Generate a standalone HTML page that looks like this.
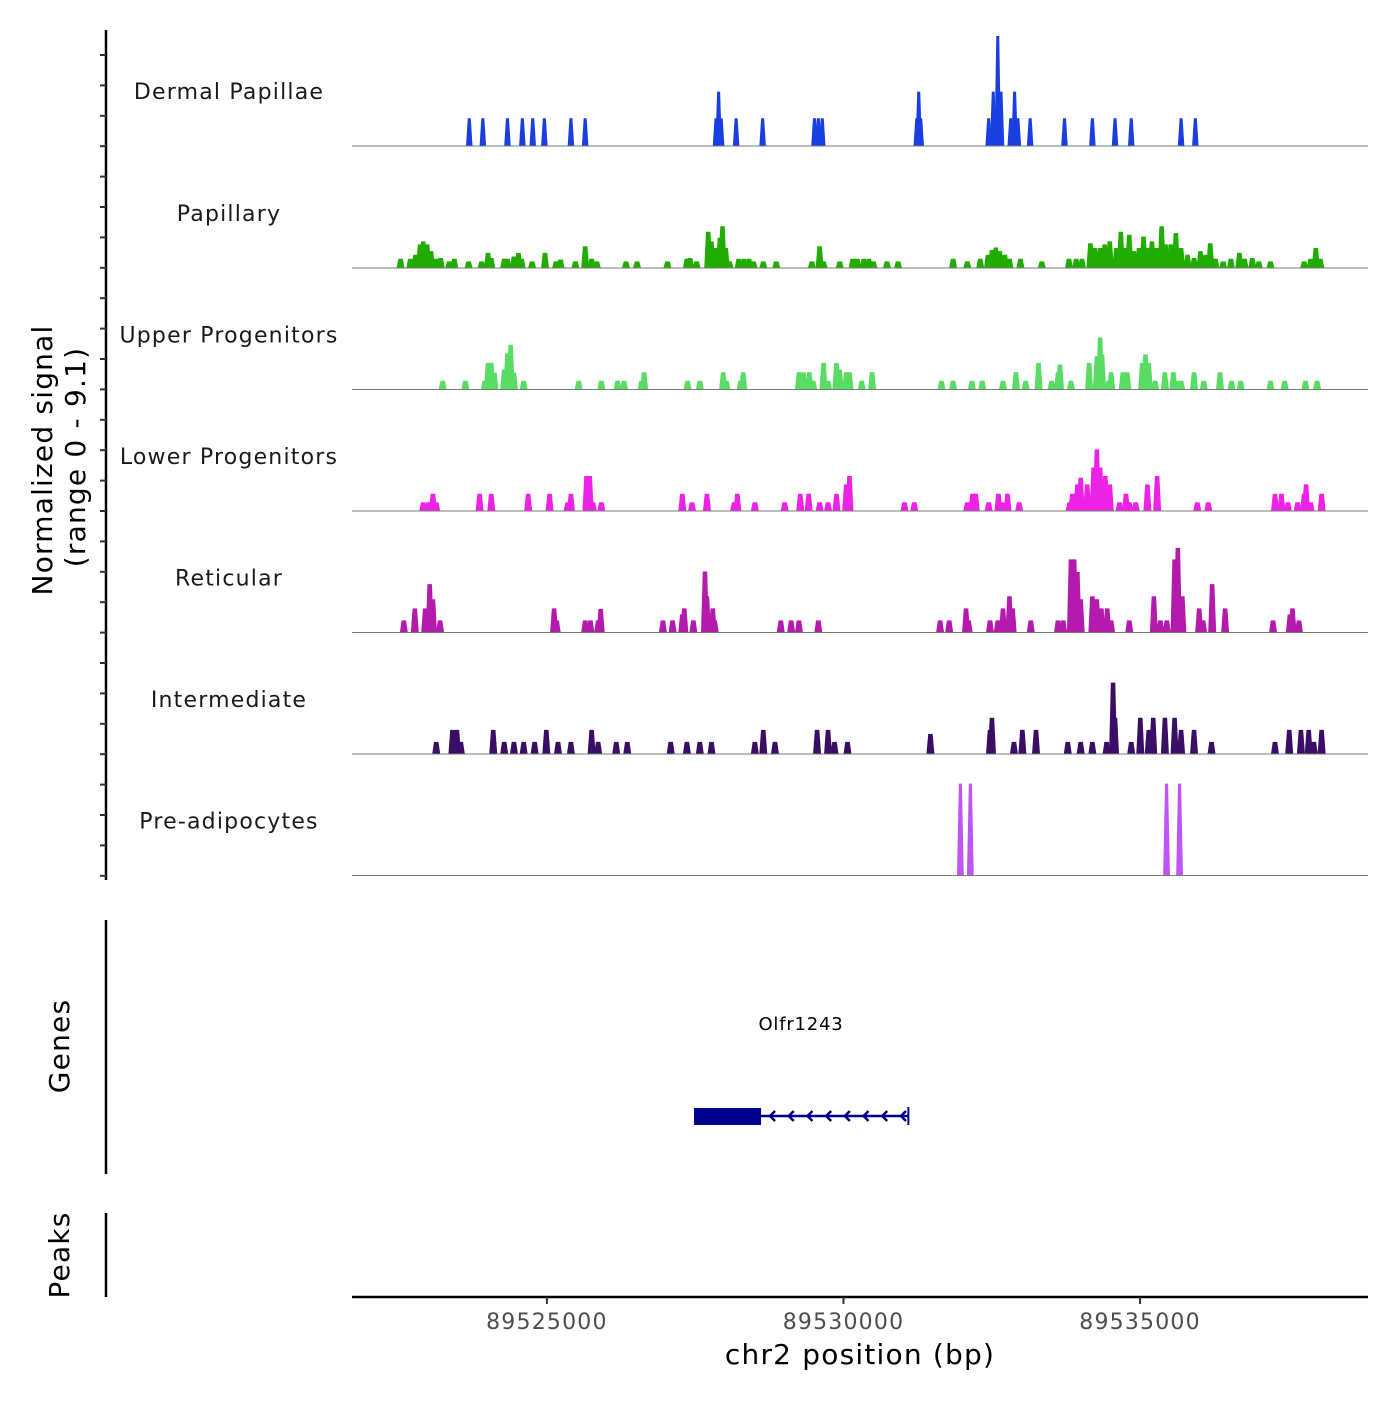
<!DOCTYPE html>
<html><head><meta charset="utf-8"><style>
body{margin:0;background:#fff}
svg text{font-family:"DejaVu Sans","Liberation Sans",sans-serif}
</style></head><body>
<svg id="c" width="1400" height="1400" xmlns="http://www.w3.org/2000/svg">
<g id="axes"></g>
<g id="tracks"></g>
</svg>
<script>
// region and axis data
const regionStart = 89521714;
const regionEnd = 89538843;
const xTicks = [89525000, 89530000, 89535000];
const trackNames = ["Dermal Papillae","Papillary","Upper Progenitors","Lower Progenitors","Reticular","Intermediate","Pre-adipocytes"];
const trackColors = ["#1a3fe0","#20ad00","#58dc64","#ee22e6","#b41aac","#3b0e66","#c055f6"];
const signalMax = 9.1;
// peaks: [offset from region start (bp), normalized signal]
const dermalPapillae = [[1977,2.3],[2206,2.3],[2621,2.3],[2872,2.3],[3047,2.3],[3243,2.3],[3691,2.3],[3931,2.3],[6137,2.3],[6181,4.5],[6224,2.3],[6476,2.3],[6923,2.3],[7797,2.3],[7862,2.3],[7928,2.3],[9522,2.3],[9555,4.5],[9588,2.3],[10734,2.3],[10811,4.5],[10887,9.1],[10942,4.5],[11106,2.3],[11171,4.5],[11226,2.3],[11433,2.3],[12012,2.3],[12482,2.3],[12864,2.3],[13137,2.3],[13978,2.3],[14218,2.3]];
const papillary = [[819,.77],[983,.77],[1070,1.1],[1147,1.95],[1201,2.2],[1267,1.95],[1332,1.4],[1420,.77],[1496,.83],[1638,.55],[1725,.77],[1966,.55],[2184,.55],[2293,1.25],[2348,.83],[2566,.77],[2621,.77],[2730,.95],[2806,1.25],[2861,.77],[3036,.55],[3254,1.25],[3440,.55],[3516,.7],[3767,.55],[3931,1.8],[4040,.77],[4128,.55],[4619,.55],[4805,.55],[5318,.55],[5646,.77],[5700,.83],[5809,.55],[6006,3.0],[6061,2.2],[6137,1.65],[6203,2.5],[6246,3.45],[6301,1.65],[6366,.55],[6519,.77],[6607,.77],[6694,.77],[6770,.55],[6934,.55],[7153,.55],[7753,.55],[7884,1.8],[7950,.55],[8223,.55],[8441,.77],[8518,.77],[8627,.77],[8714,.77],[8791,.55],[9020,.55],[9206,.55],[10134,.77],[10374,.55],[10592,.77],[10723,1.1],[10789,1.5],[10854,1.7],[10920,1.4],[11007,1.1],[11084,.77],[11269,.77],[11630,.55],[12088,.77],[12209,.77],[12307,.77],[12449,2.05],[12525,1.65],[12613,1.65],[12689,1.95],[12776,2.2],[12886,1.65],[12962,3.0],[13049,1.65],[13104,2.75],[13180,1.4],[13268,1.65],[13344,2.6],[13410,1.65],[13486,2.2],[13563,1.65],[13650,3.45],[13716,1.95],[13803,1.95],[13890,2.9],[13978,1.65],[14087,1.1],[14196,.83],[14305,1.4],[14393,1.1],[14469,2.05],[14556,.77],[14687,.55],[14818,.77],[14960,1.25],[15048,.77],[15179,.83],[15288,.55],[15485,.55],[16052,.55],[16162,.77],[16249,1.65],[16325,.77]];
const upperProgenitors = [[1529,.72],[1911,.72],[2239,.72],[2293,2.2],[2348,2.2],[2402,1.4],[2566,1.65],[2621,3.0],[2675,3.7],[2730,1.4],[2894,.72],[3822,.72],[4204,.72],[4477,.72],[4586,.72],[4881,.72],[4925,1.43],[5657,.72],[5864,.72],[6257,1.43],[6312,.72],[6552,.72],[6596,1.43],[7535,1.43],[7611,1.43],[7710,1.43],[7775,.72],[7950,2.2],[8026,.72],[8168,2.2],[8223,1.65],[8332,1.43],[8387,1.43],[8594,.72],[8769,1.43],[9937,.72],[10134,.72],[10450,.72],[10625,.72],[10975,.72],[11193,1.43],[11357,.72],[11575,2.2],[11794,.72],[11903,1.43],[11936,2.07],[12121,.72],[12427,2.2],[12558,2.75],[12613,4.3],[12645,2.9],[12755,.72],[12798,1.43],[12995,1.43],[13071,1.43],[13322,2.2],[13377,2.9],[13432,2.2],[13541,.72],[13705,1.43],[13847,1.43],[13923,.72],[13978,.72],[14196,1.43],[14360,.72],[14633,1.43],[14829,.72],[14982,.72],[15485,.72],[15725,.72],[16074,.72],[16271,.72]];
const lowerProgenitors = [[1201,.72],[1289,.72],[1365,1.43],[1420,.72],[2151,1.43],[2348,1.43],[2970,1.43],[3331,1.43],[3636,.72],[3691,1.43],[3953,2.9],[4008,2.9],[4062,.72],[4204,.72],[5569,1.43],[5733,.72],[5984,1.43],[6443,.72],[6497,1.43],[6792,.72],[7295,.72],[7557,1.43],[7699,1.43],[7884,.72],[8026,.72],[8168,1.43],[8332,2.2],[8387,2.9],[9315,.72],[9479,.72],[10374,.72],[10461,1.43],[10516,1.43],[10734,.72],[10898,1.43],[10953,.72],[11051,1.43],[11248,.72],[12099,.72],[12143,1.43],[12230,2.2],[12285,2.75],[12394,2.2],[12503,3.6],[12558,5.1],[12613,3.6],[12667,2.2],[12700,2.9],[12776,2.2],[12940,.72],[13049,1.43],[13104,.72],[13213,.72],[13410,2.2],[13574,2.9],[14251,.72],[14436,.72],[15561,1.43],[15670,1.43],[15779,.72],[15943,.72],[16052,1.43],[16085,2.2],[16162,.72],[16347,1.43]];
const reticular = [[874,1],[1059,2],[1234,2],[1310,4],[1365,2.75],[1485,1],[3407,2],[3451,1],[3931,1],[4019,1],[4150,1],[4193,1.95],[5242,1],[5405,1],[5569,1.5],[5602,2],[5755,1],[5951,5.05],[5984,3],[6082,2],[6115,1],[7229,1],[7404,1],[7535,1],[7862,1],[9915,1],[10068,1],[10352,2],[10396,1],[10756,1],[10887,1],[10975,2],[11084,3],[11138,2],[11444,1],[11903,1],[11990,1],[12121,6.05],[12176,6.05],[12230,5],[12285,2.75],[12482,3],[12558,2.75],[12634,2],[12733,2],[12798,1],[13104,1],[13519,3],[13628,1],[13737,1],[13868,6.05],[13923,7],[13999,3],[14283,2],[14349,1],[14502,4],[14720,2],[15528,1],[15812,1.5],[15856,2],[15965,1]];
const intermediate = [[1420,1],[1693,2],[1769,2],[1835,1],[2381,2],[2566,1],[2730,1],[2894,1],[3079,1],[3276,2],[3473,1],[3691,1],[4040,2],[4150,1],[4455,1],[4641,1],[5373,1],[5646,1],[5864,1],[6061,1],[6792,1],[6934,2],[7131,1],[7841,2],[8026,2],[8135,1],[8354,1],[9752,1.65],[10756,2],[10789,3],[11160,1],[11302,2],[11532,2],[12067,1],[12285,1],[12482,1],[12722,1],[12831,5.9],[12864,3],[13137,1],[13290,3],[13432,2],[13508,3],[13705,3],[13868,3],[13978,2],[14196,2],[14491,1],[15561,1],[15801,2],[15998,2],[16129,2],[16216,1],[16347,2]];
const preAdipocytes = [[10257,7.6],[10425,7.6],[13733,7.6],[13952,7.6]];
const trackData = [dermalPapillae,papillary,upperProgenitors,lowerProgenitors,reticular,intermediate,preAdipocytes];
// gene model (bp offsets from region start)
const geneName = "Olfr1243";
const geneStart = 5800, geneEnd = 9380, cdsStart = 5800, cdsEnd = 6930;

const NS="http://www.w3.org/2000/svg";
const X0=352,X1=1368;
const xs = bp => X0 + (bp-regionStart)/(regionEnd-regionStart)*(X1-X0);
const xo = off => xs(regionStart+off);
const baselines=[146,268,389.5,511,632.5,754,875.5];
const pxPerUnit = 110/signalMax;
const ys = (i,v) => baselines[i] - v*pxPerUnit;
function mk(tag,attrs,parent,txt){const e=document.createElementNS(NS,tag);for(const k in attrs)e.setAttribute(k,attrs[k]);if(txt!==undefined)e.textContent=txt;parent.appendChild(e);return e;}
const axes=document.getElementById('axes'), tracks=document.getElementById('tracks');

trackData.forEach((arr,i)=>{
  const g=mk('g',{},tracks);
  
  
  const w = i===0?110:(i===6?115:135), s = i===6?32:30;
  arr.forEach(([off,v])=>{
    const a=xo(off-w/2),b=xo(off-w/2+s),c=xo(off+w/2-s),d=xo(off+w/2),y0=baselines[i],y1=ys(i,v);
    const p=mk('polygon',{points:`${a},${y0} ${b},${y1} ${c},${y1} ${d},${y0}`,fill:trackColors[i]},g);
    
    
  });
  const bl=mk('line',{x1:X0,x2:X1,y1:baselines[i],y2:baselines[i],stroke:'#7a7a7a','stroke-width':1},g);
  
  
  const t=mk('text',{x:229,y:baselines[i]-47,'text-anchor':'middle','font-size':22,fill:'#1a1a1a','letter-spacing':'1.2'},g,trackNames[i]);
  
  
});

// left axes
let l=mk('line',{x1:106,x2:106,y1:30,y2:880,stroke:'#000','stroke-width':2.5},axes);


for(let y=55;y<=880;y+=30.4){const t=mk('line',{x1:100,x2:106,y1:y,y2:y,stroke:'#333','stroke-width':2},axes);}
l=mk('line',{x1:106,x2:106,y1:920,y2:1174,stroke:'#000','stroke-width':2.5},axes);


l=mk('line',{x1:106,x2:106,y1:1213,y2:1297,stroke:'#000','stroke-width':2.5},axes);


let t=mk('text',{transform:'translate(52,460) rotate(-90)','text-anchor':'middle','font-size':28,fill:'#000','letter-spacing':'1.2'},axes,'Normalized signal');


t=mk('text',{transform:'translate(85,457) rotate(-90)','text-anchor':'middle','font-size':28,fill:'#000','letter-spacing':'1.2'},axes,'(range 0 - '+signalMax+')');


t=mk('text',{transform:'translate(69,1046) rotate(-90)','text-anchor':'middle','font-size':28,fill:'#000','letter-spacing':'1.2'},axes,'Genes');


t=mk('text',{transform:'translate(69,1255) rotate(-90)','text-anchor':'middle','font-size':28,fill:'#000','letter-spacing':'1.2'},axes,'Peaks');



// x axis
l=mk('line',{x1:X0,x2:X1,y1:1297,y2:1297,stroke:'#000','stroke-width':2.5},axes);


xTicks.forEach(v=>{
  const tk=mk('line',{x1:xs(v),x2:xs(v),y1:1297,y2:1304,stroke:'#333','stroke-width':2},axes);
  
  
  const tl=mk('text',{x:xs(v),y:1329,'text-anchor':'middle','font-size':22,fill:'#4d4d4d','letter-spacing':'1.2'},axes,String(v));
  
  
});
t=mk('text',{x:860,y:1364,'text-anchor':'middle','font-size':28,fill:'#000','letter-spacing':'1.2'},axes,'chr2 position (bp)');



// gene
const gg=mk('g',{},axes);


t=mk('text',{x:801,y:1030,'text-anchor':'middle','font-size':18,fill:'#000','letter-spacing':'0.8'},gg,geneName);


mk('line',{x1:xo(geneStart),x2:xo(geneEnd),y1:1116,y2:1116,stroke:'#00008b','stroke-width':2.5},gg);
mk('rect',{x:xo(cdsStart)-2,y:1108,width:xo(cdsEnd)-xo(cdsStart),height:17,fill:'#00008b'},gg);
mk('line',{x1:xo(geneEnd),x2:xo(geneEnd),y1:1107,y2:1125,stroke:'#00008b','stroke-width':2},gg);
for(let x=xo(cdsEnd)+7;x<xo(geneEnd)-3;x+=18.7){mk('polyline',{points:`${x+5},${1111} ${x},${1116} ${x+5},${1121}`,fill:'none',stroke:'#00008b','stroke-width':2.5},gg);}
</script>
</body></html>
